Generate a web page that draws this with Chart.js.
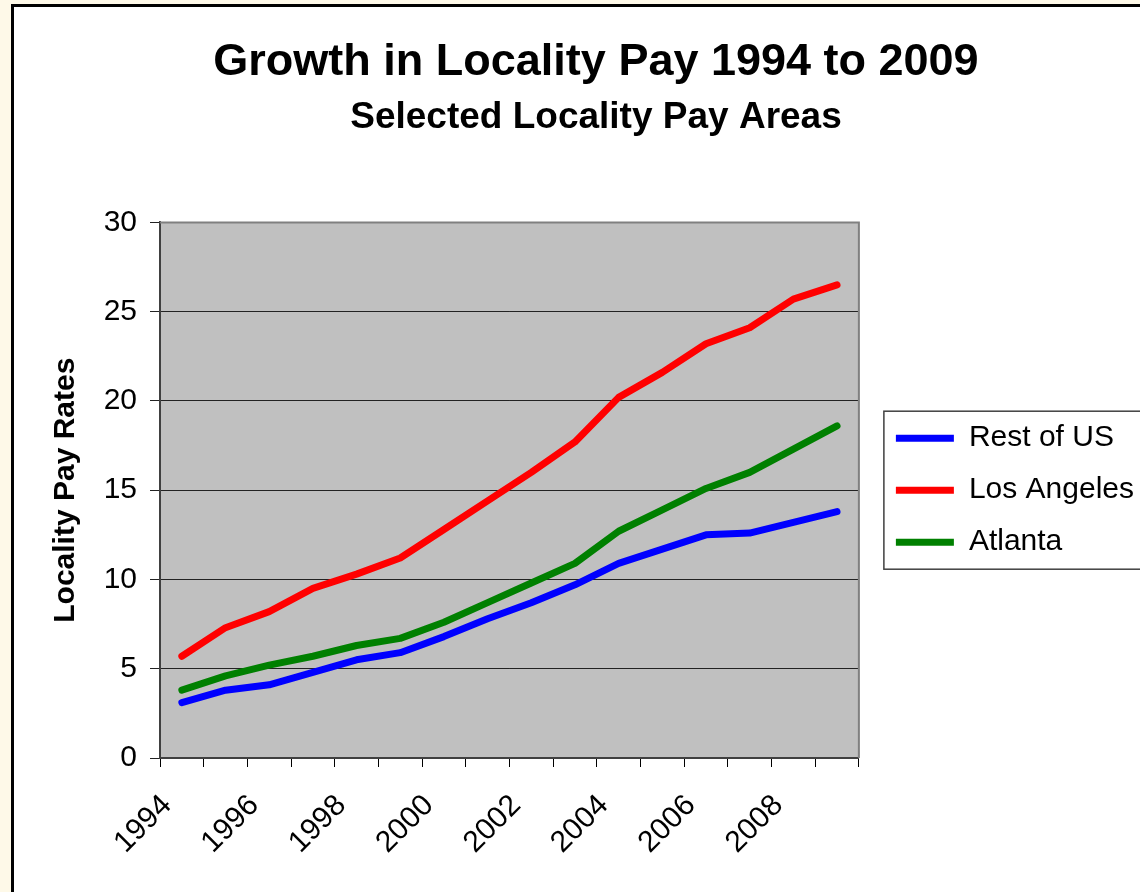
<!DOCTYPE html>
<html>
<head>
<meta charset="utf-8">
<script src="https://cdn.jsdelivr.net/npm/chart.js@4.4.1/dist/chart.umd.min.js"></script>
<style>
  html, body { margin: 0; padding: 0; overflow: hidden; background: #fef9e8; width: 1140px; height: 892px; }
  #frame { position: absolute; left: 11px; top: 4px; width: 1200px; height: 950px; border-left: 3px solid #000; border-top: 3px solid #000; background: #fff; }
  #c { position: absolute; left: 0; top: 0; }
</style>
</head>
<body>
<div id="frame"><canvas id="c" width="1160" height="885"></canvas></div>
<script>
var years = ['1994', '1995', '1996', '1997', '1998', '1999', '2000', '2001', '2002', '2003', '2004', '2005', '2006', '2007', '2008', '2009'];
var restOfUS = [3.1, 3.8, 4.1, 4.8, 5.5, 5.9, 6.8, 7.8, 8.7, 9.7, 10.9, 11.7, 12.5, 12.6, 13.2, 13.8];
var losAngeles = [5.7, 7.3, 8.2, 9.5, 10.3, 11.2, 12.8, 14.4, 16.0, 17.7, 20.2, 21.6, 23.2, 24.1, 25.7, 26.5];
var atlanta = [3.8, 4.6, 5.2, 5.7, 6.3, 6.7, 7.6, 8.7, 9.8, 10.9, 12.7, 13.9, 15.1, 16.0, 17.3, 18.6];

var font = "'Liberation Sans', Arial, sans-serif";

// gray plot area, its border, and the box round the legend
var frame = {
  id: 'frame',
  beforeDraw: function (chart) {
    var a = chart.chartArea, ctx = chart.ctx;
    ctx.save();
    ctx.fillStyle = '#c0c0c0';
    ctx.fillRect(a.left, a.top, a.right - a.left, a.bottom - a.top);
    ctx.restore();
  },
  beforeDatasetsDraw: function (chart) {
    var a = chart.chartArea, ctx = chart.ctx;
    ctx.save();
    ctx.strokeStyle = '#808080';
    ctx.lineWidth = 2;
    ctx.beginPath();
    ctx.moveTo(a.left, a.top);
    ctx.lineTo(a.right, a.top);
    ctx.lineTo(a.right, a.bottom);
    ctx.stroke();
    ctx.restore();
  },
  afterDraw: function (chart) {
    var hb = chart.legend.legendHitBoxes;
    if (!hb || !hb.length) return;
    var ctx = chart.ctx;
    var first = hb[0], last = hb[hb.length - 1];
    var left = first.left - 12;
    var top = first.top - 12;
    var bottom = last.top + last.height + 12;
    ctx.save();
    ctx.strokeStyle = '#404040';
    ctx.lineWidth = 1.5;
    ctx.strokeRect(left, top, chart.width + 20 - left, bottom - top);
    ctx.restore();
  }
};

function makeSet(label, data, color) {
  return {
    label: label,
    data: data,
    borderColor: color,
    backgroundColor: color,
    borderWidth: 7,
    borderCapStyle: 'round',
    borderJoinStyle: 'round',
    pointRadius: 0,
    tension: 0
  };
}

var ctx = document.getElementById('c').getContext('2d');
var myChart = new Chart(ctx, {
  type: 'line',
  data: {
    labels: years,
    datasets: [
      makeSet('Rest of US', restOfUS, '#0000ff'),
      makeSet('Los Angeles', losAngeles, '#ff0000'),
      makeSet('Atlanta', atlanta, '#008000')
    ]
  },
  options: {
    responsive: false,
    animation: false,
    layout: { padding: { left: 34, right: 30, top: 0, bottom: 0 } },
    plugins: {
      title: {
        display: true,
        text: 'Growth in Locality Pay 1994 to 2009',
        color: '#000',
        font: { family: font, size: 45, weight: 'bold', lineHeight: 1.2 },
        padding: { top: 29, bottom: 6 }
      },
      subtitle: {
        display: true,
        text: 'Selected Locality Pay Areas',
        color: '#000',
        font: { family: font, size: 37, weight: 'bold', lineHeight: 1.2 },
        padding: { top: 0, bottom: 82 }
      },
      legend: {
        position: 'right',
        fullSize: false,
        maxWidth: 400,
        labels: {
          usePointStyle: true,
          pointStyle: 'line',
          pointStyleWidth: 58,
          padding: 22,
          color: '#000',
          font: { family: font, size: 30 }
        }
      },
      tooltip: { enabled: false }
    },
    scales: {
      x: {
        offset: true,
        grid: { offset: true, drawOnChartArea: false, drawTicks: true, tickLength: 9, color: '#000' },
        border: { color: '#404040', width: 2 },
        ticks: {
          autoSkip: false,
          maxRotation: 45,
          minRotation: 45,
          labelOffset: -15,
          padding: 21,
          color: '#000',
          font: { family: font, size: 30 },
          callback: function (v, i) { return i % 2 === 0 ? this.getLabelForValue(v) : ''; }
        },
        afterFit: function (s) { s.height = 134; }
      },
      y: {
        min: 0,
        max: 30,
        ticks: { stepSize: 5, padding: 13, color: '#000', font: { family: font, size: 30 } },
        grid: { color: '#222', lineWidth: 1, tickLength: 10 },
        border: { color: '#404040', width: 2 },
        title: {
          display: true,
          text: 'Locality Pay Rates',
          color: '#000',
          font: { family: font, size: 30, weight: 'bold' },
          padding: { top: 0, bottom: 0 }
        },
        afterFit: function (s) { s.width = 112; }
      },
      y2: {
        position: 'right',
        display: true,
        grid: { display: false },
        border: { display: false },
        ticks: { display: false },
        afterFit: function (s) { s.width = 15; }
      }
    }
  },
  plugins: [frame]
});
</script>
</body>
</html>
